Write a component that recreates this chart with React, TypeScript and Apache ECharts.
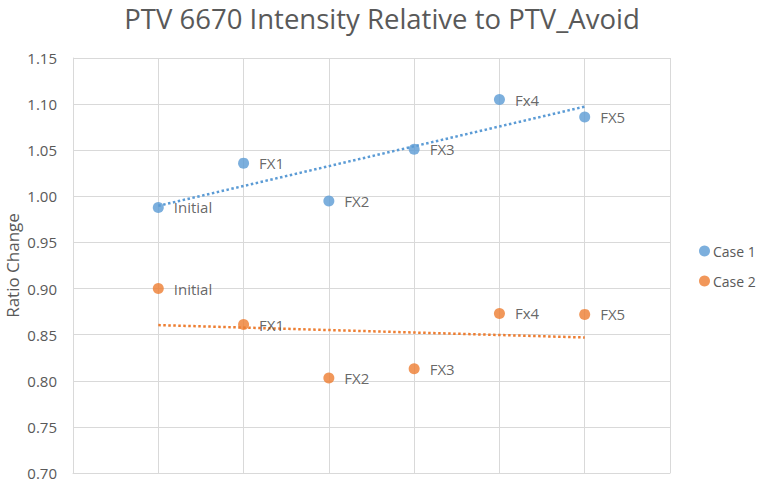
import React, { useEffect, useRef } from "react";
import * as echarts from "echarts";

const pointLabels = ["Initial", "FX1", "FX2", "FX3", "Fx4", "FX5"];
const xPositions = [1, 2, 3, 4, 5, 6];
const case1Values = [0.988, 1.036, 0.995, 1.051, 1.105, 1.086];
const case2Values = [0.9, 0.861, 0.803, 0.813, 0.873, 0.872];
const seriesNames = ["Case 1", "Case 2"];
const yTicks = { min: 0.7, max: 1.15, step: 0.05 };

function linearFit(xs: number[], ys: number[]) {
  const n = xs.length;
  const mx = xs.reduce((a, b) => a + b, 0) / n;
  const my = ys.reduce((a, b) => a + b, 0) / n;
  let sxy = 0;
  let sxx = 0;
  for (let i = 0; i < n; i++) {
    sxy += (xs[i] - mx) * (ys[i] - my);
    sxx += (xs[i] - mx) * (xs[i] - mx);
  }
  const slope = sxy / sxx;
  const icpt = my - slope * mx;
  const x0 = xs[0];
  const x1 = xs[n - 1];
  return [
    [x0, icpt + slope * x0],
    [x1, icpt + slope * x1],
  ];
}

export default function App() {
  const ref = useRef<HTMLDivElement>(null);
  useEffect(() => {
    document.body.style.margin = "0";
    if (!ref.current) return;
    const chart = echarts.init(ref.current, null, { renderer: "svg" });
    const font = "'Open Sans', 'Noto Sans', sans-serif";
    const blue = "#5B9BD5";
    const orange = "#ED7D31";
    const grid = "#D9D9D9";
    const mk = (vals: number[]) =>
      vals.map((v, i) => ({ value: [xPositions[i], v], name: pointLabels[i] }));
    const labelStyle = {
      show: true,
      position: "right",
      distance: 10,
      formatter: (p: any) => p.name,
      color: "#404040",
      fontSize: 15,
      fontFamily: font,
    };
    chart.setOption({
      animation: false,
      textStyle: { fontFamily: font },
      title: {
        text: "PTV 6670 Intensity Relative to PTV_Avoid",
        left: 377,
        textAlign: "center",
        top: -1,
        textStyle: {
          fontSize: 27.5,
          fontWeight: "normal",
          color: "#595959",
          fontFamily: font,
        },
      },
      legend: {
        data: seriesNames,
        orient: "vertical",
        left: 694,
        top: 239,
        itemGap: 16,
        icon: "circle",
        itemWidth: 11,
        itemHeight: 11,
        textStyle: { fontSize: 14, color: "#595959", fontFamily: font, padding: [0, 0, 0, -2] },
      },
      grid: { left: 73, right: 89, top: 58, bottom: 10, containLabel: false, outerBoundsMode: "none" },
      xAxis: {
        type: "value",
        min: 0,
        max: 7,
        interval: 1,
        axisLabel: { show: false },
        axisTick: { show: false },
        axisLine: { show: true, lineStyle: { color: grid, width: 1 } },
        splitLine: { show: true, lineStyle: { color: grid, width: 1 } },
      },
      yAxis: {
        type: "value",
        min: yTicks.min,
        max: yTicks.max,
        interval: yTicks.step,
        name: "Ratio Change",
        nameLocation: "middle",
        nameGap: 52,
        nameMoveOverlap: false,
        nameTextStyle: { fontSize: 17, color: "#595959", fontFamily: font },
        axisLabel: {
          formatter: (v: number) => v.toFixed(2),
          fontSize: 15,
          color: "#595959",
          margin: 16,
          fontFamily: font,
        },
        axisTick: { show: false },
        axisLine: { show: true, lineStyle: { color: grid, width: 1 } },
        splitLine: { show: true, lineStyle: { color: grid, width: 1 } },
      },
      series: [
        {
          name: seriesNames[0],
          type: "scatter",
          symbolSize: 11,
          itemStyle: { color: blue },
          data: mk(case1Values),
          label: labelStyle,
          z: 3,
        },
        {
          name: seriesNames[1],
          type: "scatter",
          symbolSize: 11,
          itemStyle: { color: orange },
          data: mk(case2Values),
          label: labelStyle,
          z: 3,
        },
        {
          name: "Trend Case 1",
          type: "line",
          data: linearFit(xPositions, case1Values),
          symbol: "none",
          lineStyle: { color: blue, width: 2.5, type: [2.5, 2.5] },
          z: 2,
        },
        {
          name: "Trend Case 2",
          type: "line",
          data: linearFit(xPositions, case2Values),
          symbol: "none",
          lineStyle: { color: orange, width: 2.5, type: [2.5, 2.5] },
          z: 2,
        },
      ],
    });
    return () => chart.dispose();
  }, []);
  return <div ref={ref} style={{ width: 759, height: 483 }} />;
}
